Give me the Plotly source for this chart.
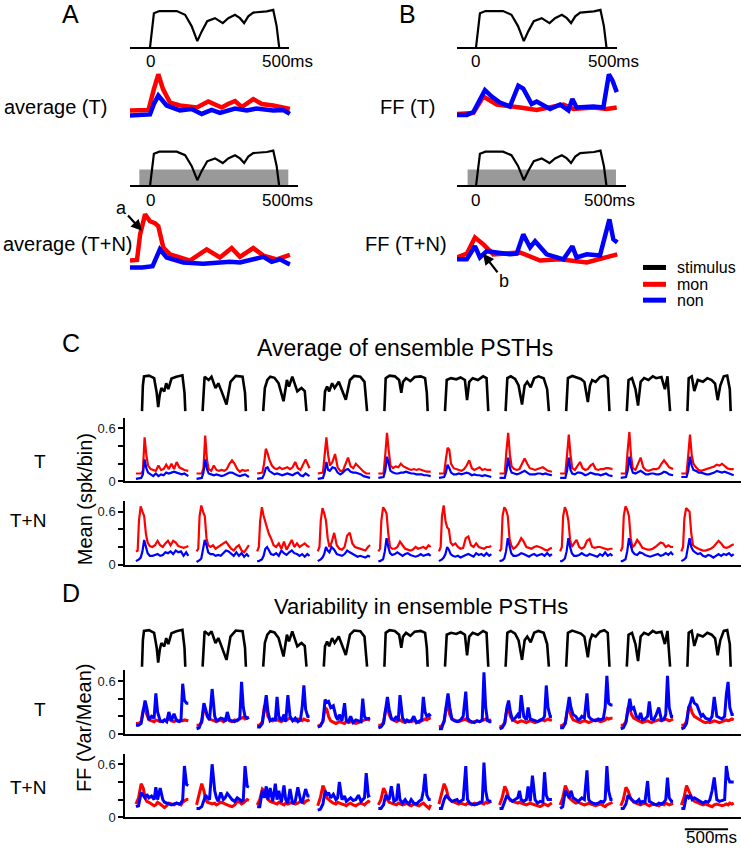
import plotly.graph_objects as go

W, H = 741, 853
FONT = "Liberation Sans, Arial, sans-serif"
RED, BLUE = "#ff0000", "#0000ff"

# ---------------- Panel A / B data (time in ms, values in normalised units) ----------------
stimA_t = [0, 15, 36, 103, 135, 160, 182, 199, 220, 250, 280, 301, 327, 346, 362, 378, 397, 449, 474, 487, 497]
stimA_v = [0, 0.91, 0.97, 0.97, 0.87, 0.57, 0.17, 0.43, 0.70, 0.78, 0.65, 0.78, 0.87, 0.78, 0.65, 0.83, 0.93, 0.96, 1.0, 0.57, 0.0]

a_T_red_t = [-77, -40, -6, 15, 32, 50, 77, 115, 180, 224, 250, 276, 300, 327, 353, 397, 430, 474, 538]
a_T_red_v = [0.17, 0.17, 0.18, 0.6, 0.9, 0.6, 0.33, 0.27, 0.23, 0.35, 0.28, 0.23, 0.3, 0.36, 0.24, 0.4, 0.3, 0.27, 0.2]
a_T_blue_t = [-77, -40, 0, 15, 32, 64, 115, 160, 199, 237, 269, 327, 372, 410, 474, 513, 538]
a_T_blue_v = [0.07, 0.07, 0.09, 0.3, 0.47, 0.27, 0.17, 0.2, 0.1, 0.18, 0.12, 0.21, 0.17, 0.21, 0.17, 0.18, 0.1]

a_TN_red_t = [-77, -50, -38, -19, 0, 19, 32, 51, 77, 154, 218, 269, 314, 346, 397, 436, 487, 513, 538]
a_TN_red_v = [0.19, 0.2, 0.61, 0.93, 0.82, 0.79, 0.74, 0.4, 0.29, 0.19, 0.37, 0.24, 0.39, 0.25, 0.39, 0.27, 0.21, 0.25, 0.28]
a_TN_blue_t = [-77, -30, 10, 38, 64, 128, 205, 308, 346, 397, 436, 468, 500, 532, 538]
a_TN_blue_v = [0.08, 0.08, 0.1, 0.37, 0.24, 0.16, 0.14, 0.17, 0.16, 0.21, 0.25, 0.17, 0.21, 0.14, 0.13]

b_T_red_t = [-74, -10, 28, 79, 168, 231, 333, 371, 447, 498, 536]
b_T_red_v = [0.1, 0.12, 0.45, 0.29, 0.23, 0.18, 0.29, 0.2, 0.23, 0.2, 0.23]
b_T_blue_t = [-74, -35, -10, 34, 60, 91, 129, 161, 180, 212, 231, 282, 320, 352, 367, 383, 447, 485, 506, 520, 536]
b_T_blue_v = [0.08, 0.08, 0.14, 0.58, 0.45, 0.33, 0.25, 0.67, 0.61, 0.3, 0.35, 0.2, 0.29, 0.17, 0.4, 0.23, 0.25, 0.23, 0.9, 0.77, 0.54]

b_TN_red_t = [-74, -35, -4, 28, 66, 168, 244, 320, 422, 498, 538]
b_TN_red_v = [0.24, 0.3, 0.56, 0.45, 0.29, 0.32, 0.19, 0.21, 0.16, 0.24, 0.29]
b_TN_blue_t = [-74, -35, -4, 15, 41, 129, 155, 180, 206, 225, 269, 333, 367, 383, 422, 472, 508, 523, 538]
b_TN_blue_v = [0.21, 0.21, 0.42, 0.24, 0.34, 0.29, 0.3, 0.61, 0.4, 0.5, 0.29, 0.21, 0.42, 0.24, 0.29, 0.27, 0.85, 0.53, 0.48]

# ---------------- Panels C / D data ----------------
period = 700  # ms between successive stimuli

stim_t = [
    [0, 10, 23, 80, 140, 170, 187, 205, 224, 257, 280, 304, 341, 397, 467, 491, 500],
    [0, 23, 70, 103, 149, 182, 219, 276, 322, 383, 462, 490, 500],
    [0, 19, 48, 82, 130, 178, 235, 274, 298, 336, 394, 442, 480, 500],
    [0, 14, 38, 62, 96, 125, 173, 206, 254, 302, 350, 422, 470, 500],
    [0, 15, 60, 120, 170, 195, 215, 250, 300, 350, 420, 470, 490, 500],
    [0, 20, 70, 130, 180, 230, 255, 280, 320, 380, 440, 480, 500],
    [0, 20, 60, 110, 150, 190, 220, 250, 290, 330, 380, 440, 480, 500],
    [0, 20, 70, 120, 170, 210, 250, 275, 300, 340, 390, 440, 480, 500],
    [0, 20, 60, 100, 130, 160, 200, 250, 300, 340, 400, 440, 470, 500],
    [0, 15, 50, 80, 120, 180, 230, 280, 320, 350, 380, 420, 460, 490, 500],
]
stim_v = [
    [0, 0.7, 0.95, 0.97, 0.9, 0.5, 0.11, 0.45, 0.63, 0.54, 0.76, 0.6, 0.89, 0.94, 0.98, 0.5, 0],
    [0, 0.94, 0.85, 0.94, 0.63, 0.76, 0.54, 0.18, 0.8, 0.96, 0.94, 0.5, 0],
    [0, 0.63, 0.85, 0.94, 0.91, 0.76, 0.27, 0.85, 0.67, 0.94, 0.54, 0.63, 0.55, 0],
    [0, 0.54, 0.67, 0.54, 0.76, 0.63, 0.8, 0.6, 0.31, 0.85, 0.96, 0.94, 0.8, 0],
    [0, 0.9, 0.97, 0.95, 0.85, 0.5, 0.8, 0.9, 0.82, 0.93, 0.95, 0.9, 0.5, 0],
    [0, 0.85, 0.9, 0.87, 0.92, 0.85, 0.3, 0.8, 0.9, 0.85, 0.95, 0.9, 0],
    [0, 0.9, 0.95, 0.88, 0.7, 0.18, 0.7, 0.8, 0.65, 0.9, 0.95, 0.9, 0.6, 0],
    [0, 0.9, 0.96, 0.93, 0.88, 0.8, 0.25, 0.7, 0.85, 0.8, 0.93, 0.97, 0.9, 0],
    [0, 0.85, 0.9, 0.6, 0.15, 0.8, 0.9, 0.85, 0.95, 0.9, 0.93, 0.6, 0.95, 0],
    [0, 0.9, 0.95, 0.55, 0.85, 0.8, 0.9, 0.85, 0.75, 0.3, 0.7, 0.95, 0.97, 0.6, 0],
]

# C, T : mean (spk/bin)
t_ct = [-70, -10, 10, 30, 50, 70, 100, 130, 160, 190, 220, 250, 280, 310, 340, 370, 400, 430, 460, 490, 535]
ct_red = [
    [0.09, 0.09, 0.12, 0.5, 0.3, 0.18, 0.14, 0.13, 0.12, 0.18, 0.13, 0.14, 0.19, 0.14, 0.2, 0.14, 0.22, 0.16, 0.14, 0.13, 0.12],
    [0.09, 0.09, 0.15, 0.52, 0.25, 0.14, 0.12, 0.18, 0.13, 0.12, 0.13, 0.12, 0.14, 0.2, 0.24, 0.2, 0.14, 0.11, 0.13, 0.12, 0.13],
    [0.09, 0.1, 0.2, 0.37, 0.32, 0.25, 0.18, 0.15, 0.14, 0.16, 0.14, 0.15, 0.16, 0.14, 0.16, 0.22, 0.15, 0.13, 0.2, 0.25, 0.15],
    [0.09, 0.1, 0.3, 0.5, 0.3, 0.18, 0.22, 0.31, 0.16, 0.12, 0.12, 0.2, 0.27, 0.17, 0.15, 0.2, 0.17, 0.13, 0.11, 0.09, 0.09],
    [0.09, 0.09, 0.3, 0.55, 0.35, 0.18, 0.15, 0.17, 0.16, 0.2, 0.17, 0.15, 0.14, 0.13, 0.14, 0.13, 0.14, 0.13, 0.12, 0.11, 0.11],
    [0.09, 0.09, 0.25, 0.38, 0.36, 0.2, 0.15, 0.14, 0.13, 0.12, 0.14, 0.18, 0.24, 0.15, 0.13, 0.15, 0.16, 0.13, 0.14, 0.13, 0.13],
    [0.09, 0.09, 0.35, 0.55, 0.3, 0.17, 0.14, 0.13, 0.14, 0.2, 0.26, 0.2, 0.15, 0.14, 0.13, 0.14, 0.15, 0.16, 0.14, 0.12, 0.11],
    [0.09, 0.09, 0.3, 0.53, 0.3, 0.15, 0.13, 0.17, 0.22, 0.15, 0.13, 0.14, 0.18, 0.2, 0.14, 0.13, 0.14, 0.14, 0.15, 0.15, 0.14],
    [0.09, 0.09, 0.35, 0.56, 0.28, 0.15, 0.13, 0.2, 0.27, 0.16, 0.13, 0.12, 0.13, 0.14, 0.14, 0.15, 0.2, 0.24, 0.2, 0.16, 0.14],
    [0.09, 0.09, 0.3, 0.53, 0.3, 0.2, 0.16, 0.13, 0.12, 0.13, 0.14, 0.15, 0.16, 0.17, 0.19, 0.18, 0.2, 0.17, 0.15, 0.14, 0.14],
]
ct_blue = [
    [0.03, 0.04, 0.08, 0.25, 0.15, 0.1, 0.08, 0.06, 0.09, 0.06, 0.08, 0.07, 0.1, 0.09, 0.1, 0.11, 0.1, 0.09, 0.08, 0.09, 0.06],
    [0.03, 0.04, 0.1, 0.25, 0.14, 0.09, 0.08, 0.07, 0.08, 0.07, 0.06, 0.07, 0.09, 0.1, 0.1, 0.08, 0.07, 0.06, 0.07, 0.08, 0.05],
    [0.03, 0.04, 0.08, 0.15, 0.16, 0.12, 0.1, 0.08, 0.09, 0.08, 0.07, 0.08, 0.09, 0.08, 0.07, 0.09, 0.1, 0.07, 0.06, 0.09, 0.06],
    [0.03, 0.04, 0.1, 0.22, 0.13, 0.12, 0.16, 0.15, 0.1, 0.08, 0.1, 0.13, 0.14, 0.11, 0.1, 0.1, 0.09, 0.08, 0.06, 0.05, 0.04],
    [0.04, 0.05, 0.12, 0.28, 0.2, 0.12, 0.1, 0.09, 0.09, 0.1, 0.1, 0.11, 0.1, 0.09, 0.09, 0.08, 0.08, 0.08, 0.07, 0.07, 0.06],
    [0.04, 0.05, 0.1, 0.19, 0.15, 0.1, 0.08, 0.08, 0.09, 0.08, 0.09, 0.1, 0.09, 0.07, 0.08, 0.07, 0.07, 0.06, 0.07, 0.06, 0.05],
    [0.04, 0.04, 0.12, 0.27, 0.15, 0.1, 0.09, 0.08, 0.09, 0.11, 0.12, 0.1, 0.08, 0.08, 0.08, 0.09, 0.09, 0.08, 0.09, 0.08, 0.07],
    [0.04, 0.04, 0.12, 0.27, 0.13, 0.09, 0.08, 0.1, 0.1, 0.09, 0.07, 0.08, 0.1, 0.09, 0.08, 0.08, 0.07, 0.08, 0.09, 0.07, 0.06],
    [0.04, 0.05, 0.12, 0.28, 0.16, 0.1, 0.09, 0.11, 0.12, 0.1, 0.08, 0.08, 0.09, 0.09, 0.08, 0.08, 0.09, 0.11, 0.1, 0.08, 0.07],
    [0.05, 0.05, 0.12, 0.28, 0.18, 0.13, 0.12, 0.1, 0.1, 0.09, 0.08, 0.08, 0.09, 0.1, 0.12, 0.11, 0.1, 0.11, 0.1, 0.09, 0.07],
]

# C, T+N
t_ctn = [-70, -50, -35, -15, 5, 25, 45, 65, 90, 120, 150, 180, 210, 240, 270, 300, 330, 360, 390, 420, 450, 480, 510, 535]
ctn_red = [
    [0.15, 0.16, 0.5, 0.66, 0.6, 0.55, 0.35, 0.25, 0.21, 0.2, 0.22, 0.27, 0.22, 0.2, 0.24, 0.27, 0.22, 0.27, 0.25, 0.21, 0.2, 0.19, 0.2, 0.21],
    [0.15, 0.18, 0.55, 0.67, 0.6, 0.55, 0.3, 0.22, 0.2, 0.22, 0.18, 0.2, 0.22, 0.25, 0.26, 0.22, 0.18, 0.16, 0.2, 0.22, 0.16, 0.14, 0.18, 0.22],
    [0.15, 0.2, 0.5, 0.65, 0.55, 0.48, 0.4, 0.35, 0.3, 0.22, 0.2, 0.24, 0.18, 0.26, 0.17, 0.23, 0.28, 0.2, 0.24, 0.2, 0.22, 0.24, 0.21, 0.2],
    [0.15, 0.2, 0.5, 0.64, 0.58, 0.5, 0.3, 0.2, 0.25, 0.36, 0.22, 0.18, 0.17, 0.2, 0.33, 0.36, 0.24, 0.2, 0.19, 0.18, 0.17, 0.16, 0.2, 0.22],
    [0.15, 0.18, 0.5, 0.65, 0.62, 0.58, 0.35, 0.2, 0.18, 0.18, 0.2, 0.26, 0.22, 0.18, 0.17, 0.16, 0.17, 0.2, 0.18, 0.19, 0.2, 0.18, 0.22, 0.2],
    [0.15, 0.2, 0.55, 0.67, 0.5, 0.42, 0.4, 0.25, 0.22, 0.24, 0.2, 0.18, 0.19, 0.3, 0.32, 0.22, 0.2, 0.24, 0.2, 0.19, 0.18, 0.2, 0.2, 0.21],
    [0.15, 0.18, 0.55, 0.65, 0.62, 0.55, 0.3, 0.22, 0.18, 0.2, 0.24, 0.3, 0.26, 0.2, 0.19, 0.18, 0.2, 0.21, 0.2, 0.19, 0.17, 0.16, 0.18, 0.19],
    [0.15, 0.2, 0.55, 0.65, 0.6, 0.5, 0.28, 0.2, 0.24, 0.28, 0.2, 0.18, 0.2, 0.27, 0.29, 0.2, 0.19, 0.2, 0.2, 0.19, 0.18, 0.17, 0.18, 0.18],
    [0.15, 0.2, 0.55, 0.66, 0.62, 0.55, 0.3, 0.2, 0.22, 0.28, 0.24, 0.19, 0.18, 0.17, 0.17, 0.18, 0.2, 0.22, 0.25, 0.24, 0.2, 0.22, 0.2, 0.2],
    [0.15, 0.2, 0.52, 0.64, 0.62, 0.6, 0.35, 0.22, 0.2, 0.18, 0.17, 0.16, 0.16, 0.17, 0.18, 0.2, 0.24, 0.27, 0.24, 0.2, 0.19, 0.2, 0.22, 0.23],
]
ctn_blue = [
    [0.04, 0.05, 0.06, 0.08, 0.15, 0.28, 0.2, 0.13, 0.1, 0.1, 0.11, 0.12, 0.1, 0.11, 0.14, 0.13, 0.15, 0.12, 0.16, 0.14, 0.15, 0.1, 0.14, 0.1],
    [0.03, 0.04, 0.05, 0.07, 0.18, 0.28, 0.22, 0.14, 0.12, 0.12, 0.1, 0.11, 0.1, 0.13, 0.16, 0.15, 0.12, 0.1, 0.14, 0.1, 0.13, 0.09, 0.12, 0.09],
    [0.04, 0.04, 0.05, 0.06, 0.1, 0.18, 0.2, 0.17, 0.12, 0.11, 0.13, 0.1, 0.16, 0.13, 0.11, 0.14, 0.16, 0.13, 0.12, 0.1, 0.12, 0.09, 0.12, 0.1],
    [0.04, 0.05, 0.06, 0.08, 0.12, 0.2, 0.16, 0.14, 0.2, 0.17, 0.12, 0.11, 0.1, 0.12, 0.16, 0.14, 0.12, 0.1, 0.09, 0.1, 0.09, 0.08, 0.1, 0.09],
    [0.04, 0.04, 0.05, 0.06, 0.15, 0.3, 0.2, 0.13, 0.11, 0.12, 0.14, 0.12, 0.1, 0.12, 0.13, 0.11, 0.1, 0.09, 0.1, 0.12, 0.1, 0.11, 0.12, 0.1],
    [0.04, 0.05, 0.06, 0.08, 0.12, 0.2, 0.17, 0.12, 0.1, 0.09, 0.1, 0.08, 0.1, 0.11, 0.12, 0.1, 0.09, 0.13, 0.11, 0.12, 0.1, 0.13, 0.1, 0.12],
    [0.04, 0.05, 0.05, 0.07, 0.15, 0.3, 0.22, 0.13, 0.1, 0.1, 0.11, 0.13, 0.12, 0.1, 0.09, 0.11, 0.12, 0.1, 0.11, 0.12, 0.1, 0.13, 0.1, 0.12],
    [0.04, 0.04, 0.05, 0.07, 0.15, 0.3, 0.2, 0.13, 0.1, 0.1, 0.11, 0.13, 0.11, 0.1, 0.12, 0.11, 0.1, 0.09, 0.12, 0.1, 0.14, 0.1, 0.12, 0.1],
    [0.04, 0.04, 0.05, 0.06, 0.15, 0.3, 0.22, 0.15, 0.12, 0.11, 0.14, 0.13, 0.11, 0.1, 0.09, 0.1, 0.11, 0.12, 0.1, 0.11, 0.13, 0.11, 0.14, 0.11],
    [0.04, 0.05, 0.06, 0.08, 0.18, 0.3, 0.2, 0.16, 0.14, 0.12, 0.13, 0.1, 0.09, 0.11, 0.1, 0.08, 0.1, 0.12, 0.1, 0.12, 0.11, 0.13, 0.1, 0.12],
]

# D : Fano factor (Var/Mean)
t_d = [-70, -40, -10, 15, 35, 55, 80, 110, 140, 160, 180, 210, 240, 260, 285, 310, 340, 370, 400, 430, 450, 470, 490, 515, 535]
dt_red = [
    [0.12, 0.12, 0.14, 0.28, 0.31, 0.22, 0.16, 0.15, 0.14, 0.16, 0.15, 0.14, 0.15, 0.16, 0.15, 0.17, 0.15, 0.14, 0.16, 0.15, 0.16, 0.15, 0.16, 0.15, 0.15],
    [0.1, 0.1, 0.13, 0.3, 0.26, 0.2, 0.17, 0.16, 0.15, 0.14, 0.15, 0.16, 0.14, 0.15, 0.17, 0.15, 0.14, 0.16, 0.15, 0.17, 0.18, 0.19, 0.17, 0.18, 0.19],
    [0.1, 0.1, 0.14, 0.32, 0.3, 0.2, 0.16, 0.15, 0.16, 0.17, 0.15, 0.14, 0.16, 0.15, 0.17, 0.18, 0.16, 0.15, 0.17, 0.16, 0.15, 0.17, 0.16, 0.15, 0.16],
    [0.09, 0.1, 0.14, 0.3, 0.28, 0.2, 0.15, 0.13, 0.12, 0.13, 0.14, 0.13, 0.12, 0.14, 0.13, 0.14, 0.13, 0.12, 0.13, 0.14, 0.15, 0.16, 0.17, 0.16, 0.16],
    [0.1, 0.1, 0.13, 0.28, 0.3, 0.22, 0.17, 0.15, 0.14, 0.15, 0.16, 0.14, 0.13, 0.14, 0.15, 0.14, 0.15, 0.14, 0.13, 0.15, 0.16, 0.17, 0.16, 0.18, 0.17],
    [0.08, 0.09, 0.14, 0.3, 0.32, 0.22, 0.17, 0.16, 0.15, 0.14, 0.15, 0.16, 0.17, 0.15, 0.14, 0.13, 0.14, 0.15, 0.14, 0.15, 0.16, 0.17, 0.15, 0.16, 0.16],
    [0.08, 0.09, 0.13, 0.28, 0.29, 0.2, 0.16, 0.14, 0.13, 0.14, 0.15, 0.14, 0.13, 0.14, 0.15, 0.14, 0.13, 0.14, 0.15, 0.16, 0.15, 0.16, 0.17, 0.16, 0.16],
    [0.09, 0.1, 0.13, 0.28, 0.3, 0.21, 0.16, 0.15, 0.14, 0.13, 0.14, 0.15, 0.14, 0.13, 0.14, 0.15, 0.16, 0.15, 0.14, 0.15, 0.16, 0.18, 0.17, 0.18, 0.18],
    [0.1, 0.1, 0.14, 0.3, 0.28, 0.22, 0.18, 0.16, 0.15, 0.14, 0.13, 0.14, 0.15, 0.14, 0.13, 0.14, 0.15, 0.16, 0.15, 0.16, 0.17, 0.16, 0.15, 0.16, 0.17],
    [0.1, 0.1, 0.14, 0.3, 0.31, 0.24, 0.2, 0.18, 0.16, 0.15, 0.14, 0.13, 0.14, 0.13, 0.14, 0.15, 0.14, 0.13, 0.14, 0.15, 0.16, 0.15, 0.16, 0.17, 0.16],
]
dt_blue = [
    [0.1, 0.1, 0.12, 0.25, 0.38, 0.3, 0.16, 0.2, 0.18, 0.46, 0.25, 0.15, 0.14, 0.16, 0.14, 0.25, 0.15, 0.23, 0.15, 0.14, 0.15, 0.57, 0.38, 0.35, 0.35],
    [0.06, 0.07, 0.15, 0.35, 0.28, 0.2, 0.16, 0.51, 0.2, 0.15, 0.16, 0.18, 0.17, 0.14, 0.25, 0.16, 0.15, 0.14, 0.16, 0.18, 0.59, 0.3, 0.2, 0.18, 0.19],
    [0.08, 0.08, 0.12, 0.3, 0.44, 0.25, 0.15, 0.17, 0.16, 0.42, 0.2, 0.15, 0.22, 0.14, 0.44, 0.2, 0.15, 0.18, 0.14, 0.16, 0.3, 0.55, 0.28, 0.2, 0.2],
    [0.08, 0.09, 0.15, 0.39, 0.36, 0.37, 0.3, 0.32, 0.2, 0.16, 0.22, 0.15, 0.35, 0.15, 0.14, 0.2, 0.13, 0.16, 0.15, 0.14, 0.4, 0.2, 0.17, 0.18, 0.18],
    [0.07, 0.08, 0.12, 0.3, 0.42, 0.28, 0.18, 0.16, 0.2, 0.15, 0.44, 0.18, 0.14, 0.16, 0.14, 0.15, 0.2, 0.13, 0.15, 0.16, 0.42, 0.25, 0.2, 0.22, 0.2],
    [0.06, 0.06, 0.15, 0.35, 0.46, 0.3, 0.17, 0.15, 0.14, 0.15, 0.16, 0.2, 0.48, 0.18, 0.15, 0.14, 0.13, 0.15, 0.14, 0.16, 0.7, 0.3, 0.16, 0.14, 0.14],
    [0.06, 0.07, 0.12, 0.3, 0.38, 0.25, 0.16, 0.18, 0.22, 0.18, 0.44, 0.2, 0.16, 0.3, 0.17, 0.16, 0.15, 0.14, 0.16, 0.17, 0.2, 0.55, 0.3, 0.2, 0.2],
    [0.07, 0.07, 0.12, 0.32, 0.42, 0.3, 0.22, 0.2, 0.16, 0.17, 0.2, 0.18, 0.46, 0.2, 0.17, 0.16, 0.15, 0.17, 0.16, 0.18, 0.3, 0.66, 0.35, 0.33, 0.33],
    [0.06, 0.07, 0.13, 0.3, 0.4, 0.28, 0.3, 0.2, 0.18, 0.24, 0.16, 0.17, 0.2, 0.37, 0.17, 0.16, 0.22, 0.3, 0.16, 0.17, 0.22, 0.66, 0.3, 0.2, 0.2],
    [0.06, 0.07, 0.12, 0.3, 0.35, 0.42, 0.35, 0.33, 0.25, 0.2, 0.22, 0.18, 0.17, 0.16, 0.2, 0.42, 0.2, 0.18, 0.17, 0.2, 0.45, 0.59, 0.3, 0.22, 0.22],
]
dtn_red = [
    [0.15, 0.22, 0.38, 0.33, 0.22, 0.18, 0.17, 0.15, 0.13, 0.14, 0.17, 0.15, 0.12, 0.11, 0.13, 0.16, 0.15, 0.14, 0.16, 0.15, 0.14, 0.17, 0.18, 0.2, 0.2],
    [0.14, 0.25, 0.38, 0.3, 0.2, 0.17, 0.16, 0.15, 0.16, 0.14, 0.15, 0.17, 0.16, 0.15, 0.14, 0.13, 0.12, 0.14, 0.18, 0.17, 0.15, 0.16, 0.18, 0.2, 0.19],
    [0.14, 0.2, 0.32, 0.3, 0.24, 0.2, 0.18, 0.17, 0.16, 0.15, 0.17, 0.15, 0.14, 0.16, 0.15, 0.16, 0.17, 0.15, 0.16, 0.18, 0.17, 0.16, 0.18, 0.19, 0.2],
    [0.13, 0.22, 0.36, 0.3, 0.22, 0.2, 0.18, 0.16, 0.15, 0.17, 0.16, 0.15, 0.14, 0.13, 0.15, 0.16, 0.14, 0.13, 0.15, 0.16, 0.15, 0.14, 0.16, 0.18, 0.17],
    [0.14, 0.2, 0.33, 0.28, 0.2, 0.17, 0.16, 0.15, 0.14, 0.16, 0.15, 0.14, 0.15, 0.16, 0.14, 0.13, 0.15, 0.14, 0.13, 0.15, 0.16, 0.14, 0.12, 0.1, 0.14],
    [0.15, 0.25, 0.38, 0.32, 0.24, 0.2, 0.18, 0.17, 0.16, 0.15, 0.16, 0.15, 0.14, 0.16, 0.15, 0.14, 0.16, 0.15, 0.17, 0.16, 0.15, 0.17, 0.16, 0.17, 0.18],
    [0.14, 0.22, 0.35, 0.3, 0.22, 0.19, 0.18, 0.17, 0.16, 0.17, 0.16, 0.15, 0.14, 0.15, 0.16, 0.15, 0.14, 0.13, 0.12, 0.14, 0.15, 0.14, 0.13, 0.15, 0.16],
    [0.14, 0.22, 0.36, 0.3, 0.22, 0.2, 0.18, 0.16, 0.17, 0.16, 0.15, 0.14, 0.15, 0.16, 0.15, 0.14, 0.13, 0.14, 0.15, 0.13, 0.12, 0.14, 0.15, 0.16, 0.17],
    [0.13, 0.2, 0.34, 0.3, 0.24, 0.2, 0.17, 0.16, 0.15, 0.14, 0.15, 0.16, 0.14, 0.13, 0.14, 0.15, 0.14, 0.13, 0.15, 0.14, 0.16, 0.15, 0.14, 0.15, 0.16],
    [0.14, 0.22, 0.36, 0.3, 0.24, 0.21, 0.18, 0.17, 0.16, 0.15, 0.14, 0.15, 0.14, 0.13, 0.12, 0.14, 0.15, 0.14, 0.13, 0.14, 0.15, 0.14, 0.16, 0.15, 0.16],
]
dtn_blue = [
    [0.12, 0.13, 0.28, 0.25, 0.22, 0.26, 0.22, 0.24, 0.2, 0.34, 0.2, 0.33, 0.2, 0.17, 0.16, 0.15, 0.14, 0.15, 0.16, 0.15, 0.16, 0.2, 0.58, 0.37, 0.36],
    [0.1, 0.1, 0.12, 0.2, 0.25, 0.22, 0.2, 0.6, 0.3, 0.22, 0.18, 0.28, 0.2, 0.22, 0.27, 0.24, 0.2, 0.18, 0.22, 0.2, 0.18, 0.2, 0.58, 0.35, 0.34],
    [0.12, 0.12, 0.3, 0.22, 0.35, 0.2, 0.33, 0.18, 0.38, 0.2, 0.3, 0.17, 0.36, 0.2, 0.16, 0.32, 0.15, 0.18, 0.34, 0.2, 0.16, 0.25, 0.32, 0.24, 0.24],
    [0.08, 0.09, 0.15, 0.3, 0.25, 0.28, 0.22, 0.26, 0.2, 0.22, 0.4, 0.2, 0.24, 0.18, 0.2, 0.22, 0.19, 0.2, 0.25, 0.18, 0.2, 0.22, 0.5, 0.24, 0.25],
    [0.1, 0.1, 0.14, 0.25, 0.22, 0.2, 0.35, 0.18, 0.2, 0.38, 0.2, 0.16, 0.2, 0.17, 0.15, 0.2, 0.16, 0.15, 0.18, 0.2, 0.3, 0.49, 0.25, 0.2, 0.2],
    [0.1, 0.1, 0.2, 0.25, 0.22, 0.2, 0.18, 0.19, 0.2, 0.17, 0.18, 0.2, 0.58, 0.2, 0.16, 0.15, 0.14, 0.15, 0.16, 0.18, 0.62, 0.3, 0.2, 0.18, 0.18],
    [0.1, 0.1, 0.18, 0.25, 0.22, 0.2, 0.18, 0.2, 0.22, 0.3, 0.2, 0.18, 0.2, 0.35, 0.18, 0.47, 0.2, 0.16, 0.18, 0.17, 0.51, 0.25, 0.2, 0.2, 0.2],
    [0.1, 0.12, 0.3, 0.25, 0.22, 0.3, 0.22, 0.2, 0.18, 0.2, 0.22, 0.2, 0.53, 0.2, 0.17, 0.16, 0.15, 0.16, 0.18, 0.17, 0.2, 0.58, 0.3, 0.2, 0.2],
    [0.1, 0.1, 0.15, 0.25, 0.22, 0.2, 0.18, 0.17, 0.2, 0.16, 0.18, 0.17, 0.41, 0.18, 0.16, 0.15, 0.14, 0.16, 0.15, 0.17, 0.2, 0.45, 0.22, 0.18, 0.18],
    [0.1, 0.1, 0.25, 0.22, 0.25, 0.2, 0.22, 0.2, 0.18, 0.17, 0.16, 0.18, 0.17, 0.2, 0.3, 0.45, 0.2, 0.18, 0.19, 0.2, 0.58, 0.45, 0.4, 0.4, 0.4],
]

# ---------------- helpers ----------------
fig = go.Figure()
axes = {}


def px(x):
    return x / W


def py(y):
    return 1 - y / H


def add_axes(i, x0, x1, ytop, ybot, xr, yr, xaxis_extra=None, yaxis_extra=None):
    base = dict(showgrid=False, zeroline=False, showticklabels=False, ticks="",
                fixedrange=True, showline=False)
    xa = dict(base, domain=[px(x0), px(x1)], range=xr, anchor=f"y{i}")
    ya = dict(base, domain=[py(ybot), py(ytop)], range=yr, anchor=f"x{i}")
    if xaxis_extra:
        xa.update(xaxis_extra)
    if yaxis_extra:
        ya.update(yaxis_extra)
    name = "" if i == 1 else str(i)
    axes["xaxis" + name] = xa
    axes["yaxis" + name] = ya


def ms_range(x0, x1, zero, scale):
    return [(x0 - zero) / scale, (x1 - zero) / scale]


def line(i, x, y, color, width):
    ref = "" if i == 1 else str(i)
    fig.add_trace(go.Scatter(x=x, y=y, mode="lines", xaxis="x" + ref, yaxis="y" + ref,
                             line=dict(color=color, width=width), hoverinfo="skip"))


def concat(t_list, segs):
    xs, ys = [], []
    for k, vals in enumerate(segs):
        t = t_list[k] if isinstance(t_list[0], list) else t_list
        xs += [k * period + tt for tt in t] + [None]
        ys += list(vals) + [None]
    return xs, ys


baseline = dict(zeroline=True, zerolinecolor="black", zerolinewidth=1.5)

# ---------------- Panel A ----------------
add_axes(1, 130, 289, 8.1, 49.9, ms_range(130, 289, 150, 0.26), [-0.05, 1.05], yaxis_extra=baseline)
line(1, stimA_t, stimA_v, "black", 2.2)

add_axes(2, 130, 291, 65, 125, ms_range(130, 291, 150, 0.26), [-0.1, 1.1])
line(2, a_T_red_t, a_T_red_v, RED, 4.5)
line(2, a_T_blue_t, a_T_blue_v, BLUE, 4.5)

add_axes(3, 130, 298, 150.2, 189.8, ms_range(130, 298, 150, 0.26), [-0.05, 1.05], yaxis_extra=baseline)
line(3, stimA_t, stimA_v, "black", 2.2)

add_axes(4, 130, 291, 205.7, 281.3, ms_range(130, 291, 150, 0.26), [-0.1, 1.1])
line(4, a_TN_red_t, a_TN_red_v, RED, 4.5)
line(4, a_TN_blue_t, a_TN_blue_v, BLUE, 4.5)

# ---------------- Panel B ----------------
add_axes(5, 457, 617, 8.1, 49.9, ms_range(457, 617, 476, 0.2626), [-0.05, 1.05], yaxis_extra=baseline)
line(5, stimA_t, stimA_v, "black", 2.2)

add_axes(6, 457, 619, 65, 125, ms_range(457, 619, 476, 0.2626), [-0.1, 1.1])
line(6, b_T_red_t, b_T_red_v, RED, 4.5)
line(6, b_T_blue_t, b_T_blue_v, BLUE, 4.5)

add_axes(7, 457, 626, 150.2, 189.8, ms_range(457, 626, 476, 0.2626), [-0.05, 1.05], yaxis_extra=baseline)
line(7, stimA_t, stimA_v, "black", 2.2)

add_axes(8, 457, 619, 205.7, 281.3, ms_range(457, 619, 476, 0.2626), [-0.1, 1.1])
line(8, b_TN_red_t, b_TN_red_v, RED, 4.5)
line(8, b_TN_blue_t, b_TN_blue_v, BLUE, 4.5)

# noise bars behind the second stimulus in A and B
shapes = [
    dict(type="rect", xref="x3", yref="y3", x0=-41, x1=532, y0=0, y1=0.47,
         fillcolor="#999999", line=dict(width=0), layer="below"),
    dict(type="rect", xref="x7", yref="y7", x0=-32, x1=533, y0=0, y1=0.47,
         fillcolor="#999999", line=dict(width=0), layer="below"),
]

# ---------------- Panels C / D ----------------
row_x = ms_range(125, 741, 142, 0.08657)
row_axis = dict(showline=True, linecolor="black", linewidth=1.5)
row_y = dict(showline=True, linecolor="black", linewidth=1.5, ticks="outside", ticklen=5,
             tickwidth=1.5, tickcolor="black", showticklabels=True,
             tickvals=[0, 0.2, 0.4, 0.6], ticktext=["0", "", "", "0.6"],
             tickfont=dict(family=FONT, size=13, color="#222"))

add_axes(9, 125, 741, 376.2, 416.9, row_x, [-0.05, 1.05])
sx, sy = concat(stim_t, stim_v)
line(9, sx, sy, "black", 2.6)

add_axes(10, 125, 741, 421.8, 486, row_x, [0, 0.72], row_axis, row_y)
x, y = concat(t_ct, ct_red)
line(10, x, y, RED, 2.2)
x, y = concat(t_ct, ct_blue)
line(10, x, y, BLUE, 2.2)

add_axes(11, 125, 741, 505.8, 570, row_x, [0, 0.72], row_axis, row_y)
x, y = concat(t_ctn, ctn_red)
line(11, x, y, RED, 2.2)
x, y = concat(t_ctn, ctn_blue)
line(11, x, y, BLUE, 2.2)

add_axes(12, 125, 741, 633.1, 674.9, row_x, [-0.05, 1.05])
line(12, sx, sy, "black", 2.6)

add_axes(13, 125, 741, 676.8, 741, row_x, [0, 0.72], row_axis, row_y)
x, y = concat(t_d, dt_red)
line(13, x, y, RED, 3)
x, y = concat(t_d, dt_blue)
line(13, x, y, BLUE, 3)

add_axes(14, 125, 741, 760.8, 825, row_x, [0, 0.72], row_axis, row_y)
x, y = concat(t_d, dtn_red)
line(14, x, y, RED, 3)
x, y = concat(t_d, dtn_blue)
line(14, x, y, BLUE, 3)

# scale bar (500 ms) under panel D
shapes.append(dict(type="line", xref="x14", yref="paper", x0=6270, x1=6770,
                   y0=py(837), y1=py(837), line=dict(color="black", width=2)))

# legend
for ypix, col in [(270, "black"), (287, RED), (303, BLUE)]:
    shapes.append(dict(type="line", xref="paper", yref="paper", x0=px(643), x1=px(666),
                       y0=py(ypix), y1=py(ypix), line=dict(color=col, width=5)))

# ---------------- text ----------------
ann = []


def text(s, x, y, size, xanchor="center", angle=0):
    ann.append(dict(text=s, x=px(x), y=py(y), xref="paper", yref="paper", showarrow=False,
                    xanchor=xanchor, yanchor="middle", textangle=angle,
                    font=dict(family=FONT, size=size, color="black")))


text("A", 70, 14, 25)
text("B", 407, 14, 25)
text("C", 71, 346, 25)
text("D", 71, 599, 25)

text("0", 150, 62, 17)
text("500ms", 287, 62, 17)
text("0", 150, 202, 17)
text("500ms", 287, 202, 17)
text("0", 476, 62, 17)
text("500ms", 613, 62, 17)
text("0", 476, 202, 17)
text("500ms", 609, 202, 17)

text("average (T)", 2, 108, 20, "left")
text("average (T+N)", 1, 246, 20, "left")
text("FF (T)", 438, 108, 20, "right")
text("FF (T+N)", 449, 246, 20, "right")

text("stimulus", 675, 270, 16, "left")
text("mon", 675, 287, 16, "left")
text("non", 675, 303, 16, "left")

text("Average of ensemble PSTHs", 405, 351, 23)
text("Variability in ensemble PSTHs", 421, 612, 22)

text("T", 40, 466, 19)
text("T+N", 28, 525, 19)
text("T", 40, 716, 19)
text("T+N", 28, 795, 19)

text("Mean (spk/bin)", 85, 504, 20, angle=-90)
text("FF (Var/Mean)", 84, 735, 20, angle=-90)

text("500ms", 711, 845, 17)

# arrows a and b
ann.append(dict(text="a", x=px(142), y=py(233), xref="paper", yref="paper", showarrow=True,
                ax=-21, ay=-23, arrowhead=2, arrowsize=1, arrowwidth=2.2, arrowcolor="black",
                font=dict(family=FONT, size=18, color="black")))
ann.append(dict(text="b", x=px(483), y=py(256), xref="paper", yref="paper", showarrow=True,
                ax=21, ay=27, arrowhead=2, arrowsize=1, arrowwidth=2.2, arrowcolor="black",
                font=dict(family=FONT, size=18, color="black")))

fig.update_layout(
    width=W, height=H, margin=dict(l=0, r=0, t=0, b=0),
    paper_bgcolor="white", plot_bgcolor="white", showlegend=False,
    shapes=shapes, annotations=ann, **axes,
)

# remove the default page margin so the figure sits at the window's top-left corner
fig.write_html("out.html", config={"displayModeBar": False},
               post_script="document.body.style.margin='0';document.body.style.overflow='hidden';")
